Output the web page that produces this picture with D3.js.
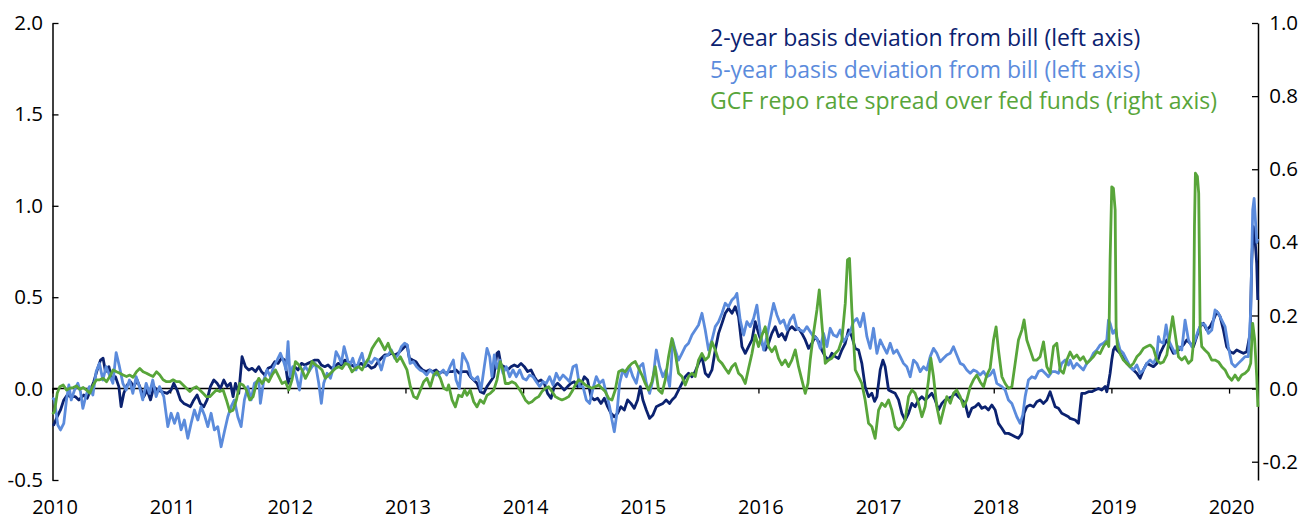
<!DOCTYPE html>
<html><head><meta charset="utf-8">
<script src="https://cdn.jsdelivr.net/npm/d3@7"></script>
<style>
html,body{margin:0;padding:0;background:#fff;}
svg{display:block;font-family:"Open Sans",Lato,sans-serif;}
</style></head>
<body><svg id="chart" width="1315" height="521"></svg>
<script>
const years = [2010,2011,2012,2013,2014,2015,2016,2017,2018,2019,2020];
const yearLabels = ["2010","2011","2012","2013","2014","2015","2016","2017","2018","2019","2020"];
const leftTicks = [-0.5,0,0.5,1.0,1.5,2.0];
const leftTickLabels = ["-0.5","0.0","0.5","1.0","1.5","2.0"];
const rightTicks = [-0.2,0,0.2,0.4,0.6,0.8,1.0];
const rightTickLabels = ["-0.2","0.0","0.2","0.4","0.6","0.8","1.0"];
const seriesNames = ["2-year basis deviation from bill (left axis)","5-year basis deviation from bill (left axis)","GCF repo rate spread over fed funds (right axis)"];
const seriesColors = ["#0b2270","#5b8bdc","#58a53a"];

// [decimal year, value]
const twoYear = [
[2010.0,-0.20],[2010.011,-0.199],[2010.040,-0.153],[2010.068,-0.117],[2010.096,-0.062],[2010.125,-0.035],[2010.153,-0.044],[2010.195,-0.044],[2010.224,-0.062],[2010.266,-0.035],[2010.295,-0.053],[2010.323,-0.008],[2010.351,0.038],[2010.380,0.102],[2010.408,0.156],[2010.430,0.166],[2010.450,0.093],[2010.479,0.120],[2010.507,0.047],[2010.535,0.065],[2010.564,0.011],[2010.583,-0.099],[2010.606,-0.026],[2010.634,0.020],[2010.663,0.038],[2010.691,0.011],[2010.719,0.047],[2010.748,0.001],[2010.776,-0.044],[2010.804,-0.008],[2010.833,-0.062],[2010.861,0.011],[2010.889,-0.008],[2010.932,-0.017],[2010.974,-0.026],[2011.008,-0.008],[2011.031,0.029],[2011.059,-0.008],[2011.088,-0.062],[2011.116,-0.081],[2011.144,-0.090],[2011.172,-0.099],[2011.201,-0.062],[2011.229,-0.035],[2011.257,-0.081],[2011.286,-0.099],[2011.314,-0.062],[2011.342,0.011],[2011.371,0.047],[2011.399,0.029],[2011.427,0.001],[2011.456,0.047],[2011.484,0.011],[2011.512,0.029],[2011.535,-0.044],[2011.555,0.029],[2011.583,-0.026],[2011.611,0.175],[2011.640,0.120],[2011.668,0.102],[2011.696,0.111],[2011.725,0.093],[2011.753,0.120],
[2011.776,0.093],[2011.804,0.074],[2011.832,0.111],[2011.861,0.120],[2011.889,0.147],[2011.917,0.138],[2011.946,0.166],[2011.974,0.156],[2012.002,0.029],[2012.031,0.093],[2012.059,0.120],[2012.087,0.102],[2012.116,0.138],[2012.144,0.129],[2012.172,0.138],[2012.200,0.147],[2012.229,0.156],[2012.257,0.156],[2012.285,0.129],[2012.314,0.120],[2012.342,0.129],[2012.370,0.111],[2012.399,0.120],[2012.427,0.138],[2012.455,0.129],[2012.484,0.156],[2012.512,0.147],[2012.540,0.129],[2012.569,0.120],[2012.597,0.129],[2012.625,0.138],[2012.654,0.120],[2012.682,0.129],[2012.710,0.111],[2012.739,0.120],[2012.767,0.147],[2012.795,0.166],[2012.824,0.184],[2012.852,0.184],[2012.880,0.193],[2012.909,0.184],[2012.937,0.193],[2012.965,0.211],[2012.993,0.229],[2013.013,0.238],[2013.033,0.166],[2013.061,0.156],[2013.090,0.147],[2013.118,0.120],[2013.146,0.102],[2013.175,0.093],[2013.203,0.102],[2013.231,0.093],[2013.260,0.102],[2013.288,0.084],[2013.316,0.093],[2013.345,0.084],[2013.373,0.093],[2013.401,0.093],[2013.430,0.102],[2013.458,0.084],[2013.486,0.093],
[2013.523,0.093],[2013.551,0.065],[2013.580,0.047],[2013.608,0.029],[2013.636,-0.017],[2013.665,-0.026],[2013.693,0.011],[2013.721,0.038],[2013.750,0.065],[2013.778,0.193],[2013.792,0.202],[2013.812,0.129],[2013.840,0.120],[2013.869,0.102],[2013.897,0.120],[2013.925,0.129],[2013.954,0.120],[2013.982,0.138],[2014.010,0.120],[2014.039,0.093],[2014.067,0.102],[2014.095,0.065],[2014.123,0.038],[2014.152,0.047],[2014.180,0.029],[2014.208,-0.026],[2014.237,-0.053],[2014.265,0.011],[2014.293,0.029],[2014.322,0.011],[2014.350,-0.008],[2014.378,0.011],[2014.407,0.029],[2014.435,0.038],[2014.463,0.011],[2014.492,0.020],[2014.520,0.065],[2014.548,0.047],[2014.577,-0.044],[2014.605,-0.062],[2014.633,-0.053],[2014.662,-0.081],[2014.690,-0.053],[2014.718,-0.099],[2014.747,-0.135],[2014.775,-0.154],[2014.803,-0.135],[2014.831,-0.099],[2014.860,-0.117],[2014.888,-0.062],[2014.916,-0.081],[2014.945,-0.108],[2014.973,-0.062],[2014.996,0.011],[2015.018,-0.062],[2015.047,-0.117],[2015.075,-0.163],[2015.103,-0.144],[2015.132,-0.099],[2015.160,-0.090],[2015.188,-0.081],[2015.216,-0.062],[2015.245,-0.081],
[2015.265,-0.062],[2015.293,-0.044],[2015.321,-0.008],[2015.350,0.029],[2015.378,0.065],[2015.406,0.084],[2015.435,0.065],[2015.463,0.093],[2015.491,0.138],[2015.520,0.175],[2015.548,0.084],[2015.576,0.065],[2015.605,0.102],[2015.633,0.211],[2015.661,0.302],[2015.690,0.357],[2015.718,0.412],[2015.746,0.439],[2015.775,0.412],[2015.803,0.448],[2015.831,0.394],[2015.860,0.230],[2015.888,0.193],[2015.916,0.230],[2015.945,0.266],[2015.973,0.366],[2016.001,0.302],[2016.030,0.248],[2016.058,0.211],[2016.086,0.248],[2016.114,0.302],[2016.143,0.339],[2016.171,0.284],[2016.199,0.302],[2016.228,0.266],[2016.256,0.321],[2016.284,0.339],[2016.313,0.321],[2016.341,0.330],[2016.369,0.302],[2016.398,0.266],[2016.426,0.220],[2016.454,0.248],[2016.483,0.284],[2016.511,0.257],[2016.539,0.211],[2016.568,0.175],[2016.596,0.156],[2016.624,0.193],[2016.653,0.175],[2016.681,0.165],[2016.709,0.211],[2016.738,0.248],[2016.766,0.321],[2016.794,0.284],[2016.823,0.220],[2016.851,0.211],[2016.879,0.138],[2016.907,0.011],[2016.936,-0.044],[2016.964,-0.026],[2016.987,-0.070],
[2017.007,-0.044],[2017.035,0.102],[2017.058,0.156],[2017.077,0.120],[2017.106,-0.008],[2017.134,-0.017],[2017.162,-0.026],[2017.191,-0.062],[2017.219,-0.135],[2017.247,-0.172],[2017.276,-0.135],[2017.304,-0.081],[2017.332,-0.099],[2017.361,-0.062],[2017.389,-0.044],[2017.417,-0.062],[2017.446,-0.044],[2017.474,-0.026],[2017.502,-0.062],[2017.531,-0.117],[2017.559,-0.081],[2017.587,-0.062],[2017.615,-0.053],[2017.644,-0.044],[2017.672,-0.026],[2017.700,-0.044],[2017.729,-0.062],[2017.757,-0.081],[2017.785,-0.154],[2017.814,-0.108],[2017.842,-0.099],[2017.870,-0.081],[2017.899,-0.108],[2017.927,-0.099],[2017.955,-0.117],[2017.984,-0.090],[2018.012,-0.117],[2018.040,-0.190],[2018.069,-0.217],[2018.097,-0.245],[2018.125,-0.245],[2018.154,-0.254],[2018.182,-0.263],[2018.210,-0.272],[2018.239,-0.245],[2018.258,-0.135],[2018.281,-0.099],[2018.309,-0.090],[2018.338,-0.099],[2018.366,-0.072],[2018.394,-0.062],[2018.423,-0.081],[2018.451,-0.062],[2018.479,-0.017],[2018.502,-0.062],[2018.522,-0.099],[2018.550,-0.108],[2018.578,-0.135],[2018.607,-0.144],[2018.635,-0.154],
[2018.649,-0.163],[2018.692,-0.172],[2018.720,-0.190],[2018.748,-0.026],[2018.777,-0.026],[2018.805,-0.017],[2018.833,-0.017],[2018.862,-0.008],[2018.890,0.001],[2018.918,-0.008],[2018.947,0.011],[2018.961,-0.017],[2018.975,0.029],[2018.989,0.084],[2019.003,0.156],[2019.017,0.211],[2019.032,0.229],[2019.046,0.211],[2019.074,0.193],[2019.102,0.166],[2019.131,0.138],[2019.159,0.120],[2019.187,0.102],[2019.216,0.084],[2019.244,0.056],[2019.272,0.102],[2019.301,0.138],[2019.329,0.129],[2019.357,0.120],[2019.386,0.138],[2019.414,0.193],[2019.442,0.229],[2019.471,0.266],[2019.499,0.229],[2019.527,0.193],[2019.555,0.202],[2019.584,0.220],[2019.612,0.239],[2019.640,0.266],[2019.669,0.248],[2019.697,0.229],[2019.725,0.284],[2019.754,0.339],[2019.782,0.357],[2019.810,0.321],[2019.839,0.339],[2019.867,0.375],[2019.895,0.421],[2019.924,0.394],[2019.952,0.321],[2019.980,0.229],[2020.009,0.202],[2020.037,0.193],[2020.065,0.211],[2020.094,0.202],[2020.122,0.193],[2020.150,0.202],[2020.179,0.302],[2020.193,0.703],[2020.207,0.886],[2020.221,0.813],[2020.235,0.685],[2020.244,0.485]
];

const fiveYear = [
[2010.0,-0.05],[2010.017,-0.062],[2010.045,-0.199],[2010.068,-0.226],[2010.096,-0.190],[2010.119,-0.062],[2010.139,0.020],[2010.159,-0.062],[2010.187,-0.008],[2010.215,0.029],[2010.238,-0.017],[2010.258,-0.108],[2010.286,-0.035],[2010.314,0.011],[2010.343,-0.035],[2010.371,0.093],[2010.399,0.138],[2010.428,0.047],[2010.456,0.120],[2010.484,0.074],[2010.513,0.029],[2010.541,0.197],[2010.569,0.120],[2010.598,0.029],[2010.626,-0.008],[2010.654,0.047],[2010.683,-0.026],[2010.711,0.065],[2010.739,0.011],[2010.767,-0.062],[2010.796,0.029],[2010.824,-0.026],[2010.852,0.047],[2010.881,-0.044],[2010.909,0.011],[2010.946,-0.044],[2010.980,-0.208],[2011.008,-0.135],[2011.037,-0.190],[2011.065,-0.135],[2011.093,-0.226],[2011.121,-0.172],[2011.150,-0.272],[2011.178,-0.190],[2011.206,-0.117],[2011.235,-0.172],[2011.263,-0.099],[2011.291,-0.144],[2011.320,-0.208],[2011.348,-0.135],[2011.376,-0.226],[2011.405,-0.208],[2011.433,-0.318],[2011.461,-0.236],[2011.490,-0.154],[2011.518,-0.099],[2011.546,-0.062],[2011.575,-0.154],[2011.603,-0.208],[2011.631,-0.062],[2011.660,0.011],[2011.688,-0.062],[2011.716,0.029],[2011.753,0.047],
[2011.767,-0.081],[2011.796,0.047],[2011.824,0.102],[2011.852,0.065],[2011.880,0.120],[2011.909,0.156],[2011.937,0.193],[2011.965,0.147],[2011.985,0.102],[2012.002,0.257],[2012.019,0.065],[2012.042,0.120],[2012.070,0.074],[2012.099,-0.008],[2012.121,0.093],[2012.150,0.120],[2012.178,0.093],[2012.206,0.120],[2012.234,0.138],[2012.263,0.029],[2012.285,-0.081],[2012.305,0.029],[2012.334,0.084],[2012.362,0.056],[2012.390,0.120],[2012.410,0.202],[2012.433,0.175],[2012.455,0.138],[2012.478,0.229],[2012.501,0.175],[2012.523,0.120],[2012.552,0.166],[2012.580,0.102],[2012.608,0.156],[2012.631,0.193],[2012.654,0.120],[2012.682,0.156],[2012.710,0.138],[2012.739,0.166],[2012.767,0.156],[2012.795,0.102],[2012.824,0.175],[2012.852,0.184],[2012.880,0.211],[2012.909,0.166],[2012.937,0.184],[2012.965,0.229],[2012.993,0.248],[2013.016,0.238],[2013.039,0.138],[2013.067,0.147],[2013.095,0.120],[2013.124,0.102],[2013.152,0.093],[2013.180,0.074],[2013.209,0.102],[2013.237,0.084],[2013.265,0.074],[2013.294,0.084],[2013.322,0.102],[2013.350,0.074],[2013.379,0.120],[2013.407,0.156],[2013.430,0.047],[2013.458,0.001],[2013.486,0.193],
[2013.529,0.138],[2013.557,0.065],[2013.585,0.047],[2013.614,0.065],[2013.642,-0.008],[2013.670,0.120],[2013.693,0.220],[2013.716,0.175],[2013.735,0.065],[2013.755,0.184],[2013.778,0.111],[2013.801,0.156],[2013.829,0.084],[2013.857,0.120],[2013.886,0.065],[2013.914,0.102],[2013.942,0.065],[2013.971,0.102],[2013.999,0.056],[2014.027,0.047],[2014.055,0.074],[2014.084,0.065],[2014.112,0.038],[2014.140,0.011],[2014.169,0.038],[2014.197,0.029],[2014.225,0.065],[2014.254,0.020],[2014.282,0.084],[2014.310,0.047],[2014.339,0.074],[2014.367,0.056],[2014.395,0.038],[2014.424,0.120],[2014.452,0.129],[2014.480,0.011],[2014.509,0.011],[2014.537,-0.062],[2014.565,-0.081],[2014.594,0.001],[2014.622,0.065],[2014.650,0.029],[2014.679,0.047],[2014.707,-0.026],[2014.735,-0.099],[2014.755,-0.172],[2014.775,-0.236],[2014.797,-0.135],[2014.820,0.029],[2014.848,0.102],[2014.877,0.065],[2014.905,0.120],[2014.933,0.065],[2014.962,0.029],[2014.990,0.120],[2015.018,0.138],[2015.047,0.029],[2015.075,-0.026],[2015.103,0.047],[2015.132,0.211],[2015.160,0.120],[2015.188,0.065],[2015.216,0.102],[2015.245,0.011],
[2015.258,0.120],[2015.271,0.266],[2015.293,0.211],[2015.321,0.156],[2015.350,0.193],[2015.378,0.230],[2015.406,0.248],[2015.435,0.293],[2015.463,0.321],[2015.491,0.348],[2015.520,0.412],[2015.548,0.321],[2015.576,0.211],[2015.605,0.266],[2015.633,0.339],[2015.661,0.366],[2015.690,0.412],[2015.718,0.467],[2015.746,0.448],[2015.775,0.485],[2015.803,0.503],[2015.817,0.521],[2015.845,0.375],[2015.874,0.293],[2015.902,0.366],[2015.930,0.339],[2015.959,0.384],[2015.987,0.457],[2016.015,0.311],[2016.044,0.211],[2016.072,0.284],[2016.100,0.375],[2016.129,0.466],[2016.157,0.403],[2016.185,0.357],[2016.214,0.375],[2016.242,0.321],[2016.270,0.375],[2016.299,0.403],[2016.327,0.330],[2016.355,0.321],[2016.384,0.311],[2016.412,0.339],[2016.440,0.311],[2016.468,0.284],[2016.497,0.275],[2016.525,0.220],[2016.553,0.302],[2016.582,0.230],[2016.610,0.330],[2016.638,0.293],[2016.667,0.284],[2016.695,0.321],[2016.723,0.257],[2016.752,0.284],[2016.780,0.311],[2016.808,0.366],[2016.837,0.384],[2016.865,0.339],[2016.893,0.412],[2016.922,0.284],[2016.950,0.220],[2016.978,0.330],
[2017.007,0.193],[2017.035,0.266],[2017.063,0.229],[2017.092,0.193],[2017.120,0.248],[2017.148,0.193],[2017.177,0.211],[2017.205,0.175],[2017.233,0.138],[2017.261,0.120],[2017.290,0.065],[2017.318,0.156],[2017.346,0.138],[2017.375,0.093],[2017.403,0.120],[2017.431,0.102],[2017.460,0.175],[2017.488,0.220],[2017.516,0.193],[2017.545,0.147],[2017.573,0.166],[2017.601,0.184],[2017.630,0.193],[2017.658,0.229],[2017.686,0.184],[2017.715,0.138],[2017.743,0.129],[2017.771,0.102],[2017.800,0.084],[2017.828,0.102],[2017.856,0.093],[2017.884,0.074],[2017.913,0.093],[2017.941,0.065],[2017.969,0.074],[2017.998,0.102],[2018.026,0.029],[2018.069,0.011],[2018.097,-0.008],[2018.125,-0.062],[2018.154,-0.081],[2018.196,-0.154],[2018.224,-0.190],[2018.247,-0.144],[2018.267,-0.044],[2018.295,0.047],[2018.324,0.065],[2018.352,0.056],[2018.380,0.093],[2018.409,0.102],[2018.437,0.084],[2018.465,0.065],[2018.494,0.093],[2018.522,0.093],[2018.550,0.084],[2018.578,0.138],[2018.607,0.156],[2018.635,0.129],
[2018.649,0.156],[2018.677,0.111],[2018.706,0.138],[2018.734,0.120],[2018.762,0.102],[2018.791,0.138],[2018.819,0.156],[2018.847,0.193],[2018.876,0.211],[2018.904,0.239],[2018.932,0.248],[2018.961,0.266],[2018.975,0.375],[2018.989,0.357],[2019.012,0.302],[2019.032,0.321],[2019.051,0.266],[2019.074,0.211],[2019.102,0.193],[2019.131,0.156],[2019.159,0.120],[2019.187,0.102],[2019.216,0.129],[2019.244,0.084],[2019.272,0.102],[2019.301,0.138],[2019.329,0.156],[2019.357,0.138],[2019.386,0.175],[2019.400,0.284],[2019.414,0.257],[2019.442,0.248],[2019.465,0.348],[2019.485,0.266],[2019.513,0.229],[2019.541,0.193],[2019.570,0.229],[2019.598,0.211],[2019.626,0.375],[2019.655,0.266],[2019.683,0.229],[2019.711,0.266],[2019.740,0.321],[2019.768,0.357],[2019.796,0.348],[2019.825,0.302],[2019.853,0.321],[2019.881,0.430],[2019.910,0.412],[2019.938,0.375],[2019.966,0.339],[2019.994,0.229],[2020.023,0.138],[2020.051,0.120],[2020.079,0.138],[2020.108,0.156],[2020.136,0.175],[2020.164,0.175],[2020.184,0.430],[2020.201,0.977],[2020.213,1.041],[2020.226,0.900],[2020.236,0.800],[2020.244,0.820]
];

const gcfRepo = [
[2010.0,-0.07],[2010.017,-0.063],[2010.040,-0.013],[2010.062,0.005],[2010.091,0.010],[2010.119,-0.004],[2010.147,0.001],[2010.176,0.003],[2010.204,0.007],[2010.232,-0.002],[2010.261,0.003],[2010.289,-0.004],[2010.317,-0.013],[2010.346,0.010],[2010.374,0.024],[2010.402,0.024],[2010.430,0.028],[2010.459,0.019],[2010.487,0.033],[2010.515,0.051],[2010.544,0.046],[2010.572,0.042],[2010.600,0.037],[2010.629,0.033],[2010.657,0.037],[2010.685,0.031],[2010.714,0.046],[2010.742,0.055],[2010.770,0.046],[2010.799,0.042],[2010.827,0.037],[2010.855,0.033],[2010.884,0.046],[2010.912,0.037],[2010.940,0.024],[2010.969,0.019],[2010.997,0.019],[2011.025,0.024],[2011.054,0.019],[2011.082,0.019],[2011.110,0.010],[2011.138,0.001],[2011.167,-0.008],[2011.195,0.001],[2011.223,0.005],[2011.252,-0.004],[2011.280,-0.013],[2011.308,-0.022],[2011.337,-0.022],[2011.365,-0.013],[2011.393,-0.004],[2011.422,-0.008],[2011.450,-0.004],[2011.478,-0.031],[2011.507,-0.063],[2011.535,-0.059],[2011.563,-0.031],[2011.592,0.014],[2011.620,0.010],[2011.648,-0.004],[2011.677,-0.031],[2011.705,-0.022],[2011.733,0.014],[2011.753,0.028],
[2011.781,0.014],[2011.810,0.028],[2011.838,0.019],[2011.866,0.037],[2011.895,0.051],[2011.923,0.033],[2011.951,0.014],[2011.980,0.019],[2012.008,-0.004],[2012.036,0.024],[2012.065,0.074],[2012.093,0.065],[2012.121,0.051],[2012.150,0.028],[2012.178,0.046],[2012.206,0.074],[2012.234,0.065],[2012.263,0.060],[2012.291,0.051],[2012.319,0.028],[2012.348,0.037],[2012.376,0.046],[2012.404,0.055],[2012.433,0.060],[2012.461,0.055],[2012.489,0.069],[2012.518,0.065],[2012.546,0.046],[2012.574,0.055],[2012.603,0.060],[2012.631,0.051],[2012.659,0.069],[2012.688,0.083],[2012.716,0.110],[2012.744,0.124],[2012.773,0.137],[2012.795,0.124],[2012.824,0.106],[2012.852,0.124],[2012.872,0.106],[2012.900,0.092],[2012.928,0.074],[2012.957,0.087],[2012.985,0.069],[2013.013,0.051],[2013.042,0.005],[2013.070,-0.022],[2013.098,-0.027],[2013.127,-0.004],[2013.155,0.019],[2013.183,0.028],[2013.211,0.005],[2013.240,0.037],[2013.268,0.046],[2013.297,0.028],[2013.325,0.001],[2013.353,-0.004],[2013.367,0.010],[2013.396,-0.031],[2013.424,-0.050],[2013.452,-0.018],[2013.480,-0.022],[2013.503,-0.004],
[2013.523,-0.018],[2013.551,-0.004],[2013.580,-0.036],[2013.608,-0.050],[2013.636,-0.031],[2013.665,-0.040],[2013.693,-0.018],[2013.721,-0.013],[2013.750,-0.004],[2013.778,0.024],[2013.806,0.074],[2013.829,0.051],[2013.849,0.014],[2013.877,0.014],[2013.905,0.019],[2013.934,0.014],[2013.962,0.001],[2013.990,-0.013],[2014.019,-0.031],[2014.047,-0.040],[2014.075,-0.036],[2014.104,-0.027],[2014.132,-0.022],[2014.160,-0.008],[2014.189,0.001],[2014.217,0.005],[2014.245,-0.008],[2014.274,-0.022],[2014.302,-0.027],[2014.330,-0.031],[2014.359,-0.027],[2014.387,-0.022],[2014.415,-0.008],[2014.444,0.010],[2014.472,0.024],[2014.500,0.019],[2014.529,0.010],[2014.557,0.005],[2014.585,0.001],[2014.613,0.005],[2014.642,0.010],[2014.670,0.001],[2014.698,-0.008],[2014.727,-0.027],[2014.755,-0.031],[2014.783,-0.004],[2014.812,0.046],[2014.840,0.051],[2014.868,0.046],[2014.897,0.060],[2014.925,0.069],[2014.953,0.074],[2014.982,0.055],[2015.010,0.037],[2015.038,0.014],[2015.066,-0.004],[2015.095,0.019],[2015.123,0.060],[2015.151,-0.004],[2015.180,-0.013],[2015.208,0.024],[2015.236,0.087],
[2015.265,0.137],[2015.293,0.096],[2015.321,0.042],[2015.350,0.033],[2015.378,0.010],[2015.406,0.033],[2015.435,0.042],[2015.463,0.033],[2015.491,0.078],[2015.520,0.096],[2015.548,0.078],[2015.576,0.087],[2015.605,0.128],[2015.633,0.106],[2015.661,0.078],[2015.690,0.069],[2015.718,0.055],[2015.746,0.042],[2015.775,0.060],[2015.803,0.069],[2015.831,0.042],[2015.860,0.033],[2015.888,0.014],[2015.916,0.055],[2015.945,0.096],[2015.973,0.146],[2016.001,0.115],[2016.030,0.146],[2016.058,0.169],[2016.086,0.115],[2016.114,0.101],[2016.143,0.115],[2016.171,0.083],[2016.199,0.065],[2016.228,0.078],[2016.256,0.060],[2016.284,0.078],[2016.313,0.106],[2016.341,0.060],[2016.369,0.024],[2016.398,-0.013],[2016.421,0.014],[2016.440,0.078],[2016.468,0.151],[2016.497,0.215],[2016.517,0.270],[2016.539,0.179],[2016.568,0.069],[2016.596,0.078],[2016.624,0.083],[2016.653,0.096],[2016.681,0.106],[2016.709,0.133],[2016.738,0.233],[2016.757,0.352],[2016.774,0.356],[2016.794,0.215],[2016.823,0.051],[2016.851,0.033],[2016.879,0.014],[2016.907,-0.031],[2016.936,-0.095],[2016.964,-0.104],[2016.992,-0.136],
[2017.021,-0.059],[2017.049,-0.040],[2017.077,-0.049],[2017.106,-0.031],[2017.134,-0.059],[2017.162,-0.104],[2017.191,-0.113],[2017.219,-0.104],[2017.247,-0.086],[2017.276,-0.022],[2017.304,-0.004],[2017.332,-0.013],[2017.361,-0.040],[2017.389,-0.077],[2017.417,-0.049],[2017.446,0.024],[2017.465,0.083],[2017.488,0.033],[2017.516,-0.049],[2017.545,-0.095],[2017.573,-0.059],[2017.601,-0.022],[2017.630,-0.040],[2017.658,-0.013],[2017.686,-0.004],[2017.715,-0.022],[2017.743,-0.049],[2017.771,-0.031],[2017.800,0.005],[2017.828,0.024],[2017.856,0.037],[2017.884,0.019],[2017.913,0.005],[2017.941,0.037],[2017.969,0.055],[2017.998,0.133],[2018.020,0.169],[2018.040,0.106],[2018.069,0.033],[2018.097,0.014],[2018.125,0.001],[2018.154,0.005],[2018.182,0.069],[2018.210,0.133],[2018.239,0.160],[2018.258,0.188],[2018.281,0.133],[2018.309,0.106],[2018.338,0.078],[2018.366,0.078],[2018.394,0.087],[2018.423,0.128],[2018.451,0.060],[2018.479,0.042],[2018.508,0.115],[2018.536,0.124],[2018.564,0.051],[2018.592,0.042],[2018.621,0.078],[2018.649,0.100],
[2018.677,0.083],[2018.706,0.092],[2018.734,0.078],[2018.762,0.087],[2018.791,0.069],[2018.819,0.078],[2018.847,0.087],[2018.876,0.101],[2018.904,0.096],[2018.932,0.115],[2018.961,0.128],[2018.978,0.115],[2018.989,0.352],[2019.003,0.552],[2019.017,0.548],[2019.032,0.488],[2019.040,0.169],[2019.051,0.115],[2019.074,0.096],[2019.102,0.078],[2019.131,0.069],[2019.159,0.060],[2019.187,0.069],[2019.216,0.087],[2019.244,0.096],[2019.272,0.110],[2019.301,0.115],[2019.329,0.119],[2019.357,0.110],[2019.386,0.078],[2019.414,0.069],[2019.442,0.073],[2019.471,0.092],[2019.499,0.151],[2019.521,0.197],[2019.541,0.151],[2019.570,0.087],[2019.598,0.078],[2019.626,0.087],[2019.655,0.069],[2019.683,0.078],[2019.697,0.124],[2019.706,0.443],[2019.714,0.589],[2019.731,0.580],[2019.742,0.534],[2019.754,0.169],[2019.768,0.115],[2019.796,0.105],[2019.825,0.096],[2019.853,0.078],[2019.881,0.078],[2019.910,0.073],[2019.938,0.060],[2019.966,0.051],[2019.994,0.033],[2020.023,0.023],[2020.051,0.037],[2020.079,0.023],[2020.108,0.037],[2020.136,0.042],[2020.164,0.051],[2020.184,0.069],[2020.201,0.178],[2020.218,0.133],[2020.235,0.033],[2020.245,-0.050]
];

const W = 1315, H = 521;
const plot = {left: 52.5, right: 1258, top: 23, bottom: 480};
const FONT = "'Open Sans', Lato, sans-serif";

const svg = d3.select("#chart");
const x = d3.scaleLinear().domain([2010, 2020.246]).range([plot.left, plot.right]);
const yL = d3.scaleLinear().domain([-0.5, 2.0]).range([plot.bottom, plot.top]);
const yR = d3.scaleLinear().domain([-0.25, 1.0]).range([plot.bottom, plot.top]);

const fontSize = 20.5;
const legendSize = 23;

// Left axis
const leftAxis = d3.axisLeft(yL).tickValues(leftTicks)
  .tickFormat((d,i) => leftTickLabels[i]).tickSizeInner(-6).tickSizeOuter(0).tickPadding(9.5);
const gL = svg.append("g").attr("transform", `translate(${plot.left},0)`).call(leftAxis);

// Right axis
const rightAxis = d3.axisRight(yR).tickValues(rightTicks)
  .tickFormat((d,i) => rightTickLabels[i]).tickSizeInner(-6).tickSizeOuter(0).tickPadding(40);
const gR = svg.append("g").attr("transform", `translate(${plot.right},0)`).call(rightAxis);
gR.selectAll("text").attr("text-anchor", "end");

[gL, gR].forEach(g => {
  g.select(".domain").attr("stroke", "#000").attr("stroke-width", 1.5);
  g.selectAll(".tick line").attr("stroke", "#000").attr("stroke-width", 1.3);
  g.selectAll("text").attr("fill", "#000").style("font-size", fontSize + "px").style("font-family", FONT);
});

// zero line with year ticks
const xTickAxis = d3.axisBottom(x).tickValues(years).tickFormat("").tickSizeInner(5).tickSizeOuter(0);
const gX = svg.append("g").attr("transform", `translate(0,${yL(0)})`).call(xTickAxis);
gX.select(".domain").remove();
gX.selectAll(".tick line").attr("stroke", "#000").attr("stroke-width", 1.3);
svg.append("line").attr("x1", plot.left).attr("x2", plot.right)
  .attr("y1", yL(0)).attr("y2", yL(0)).attr("stroke", "#000").attr("stroke-width", 1.5);

// year labels
const xLabelAxis = d3.axisBottom(x).tickValues(years).tickFormat((d,i) => yearLabels[i]).tickSize(0).tickPadding(20);
const gXL = svg.append("g").attr("transform", `translate(0,${plot.bottom})`).call(xLabelAxis);
gXL.select(".domain").remove();
gXL.selectAll("text").attr("fill", "#000").attr("dx", 2).style("font-size", "20px").style("font-family", FONT);

// lines
const lineL = d3.line().x(d => x(d[0])).y(d => yL(d[1]));
const lineR = d3.line().x(d => x(d[0])).y(d => yR(d[1]));

svg.append("path").datum(twoYear).attr("d", lineL).attr("fill", "none")
  .attr("stroke", seriesColors[0]).attr("stroke-width", 2.8).attr("stroke-linejoin", "round");
svg.append("path").datum(fiveYear).attr("d", lineL).attr("fill", "none")
  .attr("stroke", seriesColors[1]).attr("stroke-width", 2.8).attr("stroke-linejoin", "round");
svg.append("path").datum(gcfRepo).attr("d", lineR).attr("fill", "none")
  .attr("stroke", seriesColors[2]).attr("stroke-width", 2.8).attr("stroke-linejoin", "round");

// legend
const legend = svg.append("g");
seriesNames.forEach((name, i) => {
  legend.append("text").attr("x", 710).attr("y", 46 + i * 31.5)
    .attr("fill", seriesColors[i]).style("font-size", legendSize + "px")
    .style("font-family", FONT).text(name);
});
</script>
</body></html>
